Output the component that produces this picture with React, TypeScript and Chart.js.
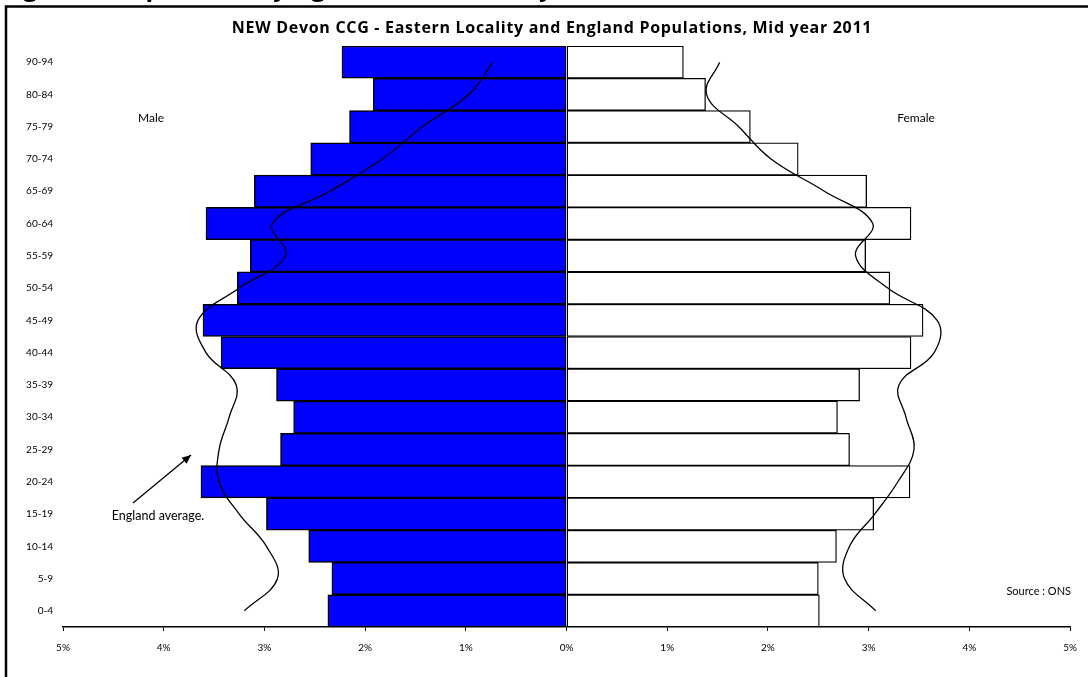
import React, { useEffect, useRef } from 'react';
import { Chart, registerables } from 'chart.js';

Chart.register(...registerables);

const ageGroups = ['90-94', '80-84', '75-79', '70-74', '65-69', '60-64', '55-59', '50-54', '45-49', '40-44', '35-39', '30-34', '25-29', '20-24', '15-19', '10-14', '5-9', '0-4'];
const localityMale = [2.23, 1.92, 2.155, 2.54, 3.1, 3.58, 3.14, 3.27, 3.61, 3.43, 2.88, 2.71, 2.84, 3.63, 2.98, 2.56, 2.33, 2.37];
const localityFemale = [1.16, 1.38, 1.825, 2.3, 2.98, 3.42, 2.97, 3.21, 3.54, 3.42, 2.91, 2.69, 2.81, 3.41, 3.05, 2.68, 2.5, 2.51];
const englandMale = [0.73, 0.97, 1.43, 1.83, 2.35, 2.92, 2.79, 3.25, 3.66, 3.58, 3.28, 3.35, 3.45, 3.45, 3.25, 2.98, 2.87, 3.2];
const englandFemale = [1.52, 1.39, 1.71, 2.03, 2.56, 3.04, 2.87, 3.19, 3.68, 3.65, 3.3, 3.37, 3.45, 3.29, 3.06, 2.81, 2.76, 3.07];
const xMin = -5;
const xMax = 5;

const chartTitle = 'NEW Devon CCG - Eastern Locality and England Populations, Mid year 2011';
const figureHeading = 'Figure 3: Population by Age, Eastern Locality';
const FONT = 'Lato, "Open Sans", sans-serif';
const TITLE_FONT = '"Open Sans", Lato, sans-serif';

const decorations = {
  id: 'decorations',
  afterDraw(chart: any) {
    const ctx = chart.ctx;
    ctx.save();
    // clipped heading (only its lower edge shows above the frame)
    ctx.fillStyle = '#000';
    ctx.font = 'bold 25px ' + TITLE_FONT;
    ctx.textAlign = 'left';
    ctx.textBaseline = 'top';
    ctx.fillText(figureHeading, 2, -24);
    // frame
    ctx.fillStyle = '#fff';
    ctx.fillRect(7, 8, 1100, 2);
    ctx.strokeStyle = '#000';
    ctx.lineWidth = 2.5;
    ctx.beginPath();
    ctx.moveTo(6, 700);
    ctx.lineTo(6, 6.5);
    ctx.lineTo(1100, 6.5);
    ctx.stroke();
    // title
    ctx.fillStyle = '#000';
    ctx.font = 'bold 16px ' + TITLE_FONT;
    ctx.textAlign = 'center';
    ctx.textBaseline = 'middle';
    try { (ctx as any).letterSpacing = '0.7px'; } catch (e) {}
    ctx.fillText(chartTitle, 552, 28);
    try { (ctx as any).letterSpacing = '0px'; } catch (e) {}
    // Male / Female
    ctx.font = '12px ' + FONT;
    ctx.fillText('Male', 151, 118);
    ctx.fillText('Female', 916, 118);
    // England average annotation
    ctx.font = '12.5px ' + FONT;
    ctx.fillText('England average.', 158, 516);
    const x1 = 133, y1 = 503, x2 = 191, y2 = 455;
    ctx.strokeStyle = '#000';
    ctx.lineWidth = 1.3;
    ctx.beginPath();
    ctx.moveTo(x1, y1);
    ctx.lineTo(x2, y2);
    ctx.stroke();
    const ang = Math.atan2(y2 - y1, x2 - x1);
    const len = 9, w = 4;
    ctx.beginPath();
    ctx.moveTo(x2, y2);
    ctx.lineTo(x2 - len * Math.cos(ang) + w * Math.sin(ang), y2 - len * Math.sin(ang) - w * Math.cos(ang));
    ctx.lineTo(x2 - len * Math.cos(ang) - w * Math.sin(ang), y2 - len * Math.sin(ang) + w * Math.cos(ang));
    ctx.closePath();
    ctx.fill();
    // source
    ctx.font = '11px ' + FONT;
    ctx.textAlign = 'right';
    ctx.fillText('Source : ONS', 1071, 591);
    ctx.restore();
  },
};

export default function App() {
  const canvasRef = useRef<HTMLCanvasElement | null>(null);

  useEffect(() => {
    const canvas = canvasRef.current;
    if (!canvas) return;
    const chart = new Chart(canvas, {
      type: 'bar',
      data: {
        labels: ageGroups,
        datasets: [
          {
            type: 'line',
            label: 'England Male',
            data: englandMale.map((v) => -v),
            borderColor: '#000',
            borderWidth: 1.3,
            pointRadius: 0,
            tension: 0.4,
            fill: false,
            order: 0,
          } as any,
          {
            type: 'line',
            label: 'England Female',
            data: englandFemale,
            borderColor: '#000',
            borderWidth: 1.3,
            pointRadius: 0,
            tension: 0.4,
            fill: false,
            order: 0,
          } as any,
          {
            type: 'bar',
            label: 'Male',
            data: localityMale.map((v) => -v),
            backgroundColor: '#0000FF',
            borderColor: '#000',
            borderWidth: 1.5,
            borderSkipped: false,
            grouped: false,
            barPercentage: 1,
            categoryPercentage: 1,
            order: 1,
          } as any,
          {
            type: 'bar',
            label: 'Female',
            data: localityFemale,
            backgroundColor: '#FFFFFF',
            borderColor: '#000',
            borderWidth: 1.3,
            borderSkipped: false,
            grouped: false,
            barPercentage: 1,
            categoryPercentage: 1,
            order: 1,
          } as any,
        ],
      },
      options: {
        indexAxis: 'y',
        responsive: false,
        animation: false,
        layout: { padding: { top: 46, right: 15, bottom: 0, left: 0 } },
        plugins: {
          legend: { display: false },
          tooltip: { enabled: false },
          title: { display: false },
        },
        scales: {
          x: {
            type: 'linear',
            min: xMin,
            max: xMax,
            afterFit: (scale: any) => {
              scale.height = 50;
            },
            ticks: {
              stepSize: 1,
              color: '#000',
              font: { family: FONT, size: 10 },
              padding: 11,
              maxRotation: 0,
              callback: (v: any) => Math.abs(Number(v)) + '%',
            },
            grid: { drawOnChartArea: false, drawTicks: true, tickLength: 4, color: '#000' },
            border: { display: true, color: '#000', width: 1.5 },
          },
          y: {
            type: 'category',
            afterFit: (scale: any) => {
              scale.width = 63;
            },
            ticks: {
              color: '#000',
              font: { family: FONT, size: 10 },
              padding: 10,
              autoSkip: false,
            },
            grid: { display: false, drawTicks: false },
            border: { display: false },
          },
        },
      },
      plugins: [decorations],
    } as any);
    return () => chart.destroy();
  }, []);

  return (
    <div style={{ position: 'fixed', left: 0, top: 0, width: 1088, height: 677, background: '#fff' }}>
      <canvas ref={canvasRef} width={1088} height={677} style={{ display: 'block' }} />
    </div>
  );
}
